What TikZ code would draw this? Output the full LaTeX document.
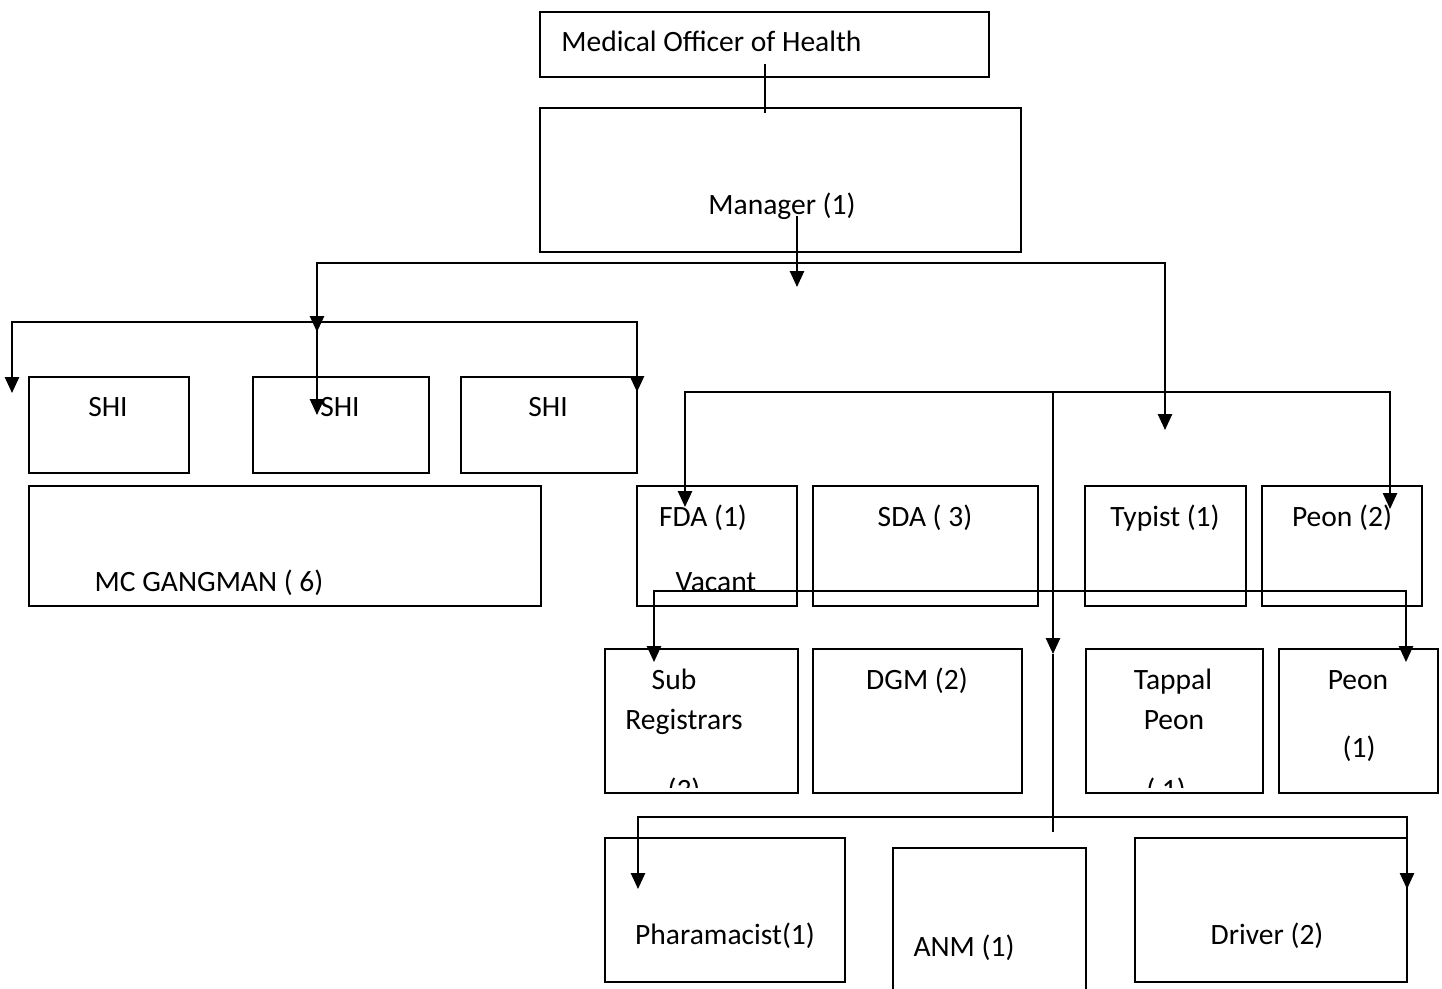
\documentclass[tikz,border=0pt]{standalone}
\usepackage{fontspec}
\setmainfont{Carlito}
\usetikzlibrary{arrows.meta,fit}
\begin{document}
\begin{tikzpicture}
[x=0.02cm,y=-0.02cm,
 boxdecorate/.style={draw,line width=1.1pt,inner sep=0pt},
 textdecorate/.style={inner sep=0pt,anchor=base,font=\fontsize{16.8}{20}\selectfont},
 linedecorate/.style={line width=1.1pt},
 arrowdecorate/.style={line width=1.1pt,-{Triangle[length=9pt,width=8pt]}},
 bothdecorate/.style={line width=1.1pt,{Triangle[length=9pt,width=8pt]}-{Triangle[length=9pt,width=8pt]}}]
\useasboundingbox (0,0) rectangle (1442,988);
%% draw the boxes
\foreach \nm/\xa/\ya/\xb/\yb in {moh/540/12/989/77, mgr/540/108/1021/252,
  shia/29/377/189/473, shib/253/377/429/473, shic/461/377/637/473,
  gang/29/486/541/606, fda/637/486/797/606, sda/813/486/1038/606,
  typist/1085/486/1246/606, peontwo/1262/486/1422/606,
  subreg/605/649/798/793, dgm/813/649/1022/793, tappal/1086/649/1263/793,
  peonone/1279/649/1438/793, pharm/605/838/845/982, anm/893/848/1086/1010,
  driver/1135/838/1407/982}
{
  \node[boxdecorate,fit={(\xa,\ya) (\xb,\yb)}] (\nm) {};
}
%% the texts
\node[textdecorate,anchor=base west] (mohname) at (561,51) {Medical Officer of Health};
\foreach \nm/\xpos/\ypos/\txt in {mgrname/782/214/{Manager (1)},
  shianame/108/416/SHI, shibname/340/416/SHI, shicname/548/416/SHI,
  gangname/209/591/{MC GANGMAN ( 6)}, fdaname/703/526/{FDA (1)},
  fdastate/716/591/Vacant, sdaname/925/526/{SDA ( 3)},
  typistname/1165/526/{Typist (1)}, peontwoname/1342/526/{Peon (2)},
  subname/674/689/Sub, subnametwo/684/729/Registrars,
  dgmname/917/689/{DGM (2)}, tappalname/1173/689/Tappal,
  tappalnametwo/1174/729/Peon, peononename/1358/689/Peon,
  peononecount/1359/757/{(1)}, pharmname/725/944/{Pharamacist(1)},
  anmname/964/956/{ANM (1)}, drivername/1267/944/{Driver (2)}}
{
  \node[textdecorate] (\nm) at (\xpos,\ypos) {\txt};
}
\begin{scope}
  \clip (605,649) rectangle (1263,787);
  \node[textdecorate] (subcount) at (684,799) {(3)};
  \node[textdecorate] (tappalcount) at (1166,799) {( 1)};
\end{scope}
%% the connectors
\coordinate (mohfoot) at (765,64);
\coordinate (mgrhead) at (765,113);
\draw[linedecorate] (mohfoot) -- (mgrhead);
\coordinate (mgrfoot) at (797,216);
\coordinate (mgrtip) at (797,287);
\draw[arrowdecorate] (mgrfoot) -- (mgrtip);
\coordinate (shitop) at (317,332);
\coordinate (mainbus) at (1165,263);
\coordinate (officetop) at (1165,430);
\draw[bothdecorate] (shitop) |- (mainbus) -- (officetop);
\coordinate (shileft) at (12,393);
\coordinate (shibus) at (637,322);
\coordinate (shiright) at (637,392);
\draw[bothdecorate] (shileft) |- (shibus) -- (shiright);
\coordinate (shimid) at (317,322);
\coordinate (shimidtip) at (317,415);
\draw[arrowdecorate] (shimid) -- (shimidtip);
\coordinate (fdatip) at (685,507);
\coordinate (clerkbus) at (1390,392);
\coordinate (peontwotip) at (1390,509);
\draw[bothdecorate] (fdatip) |- (clerkbus) -- (peontwotip);
\coordinate (clerkmid) at (1053,392);
\coordinate (midtip) at (1053,654);
\coordinate (lowmid) at (1053,832);
\draw[arrowdecorate] (clerkmid) -- (midtip);
\draw[linedecorate] (midtip) -- (lowmid);
\coordinate (subtip) at (654,662);
\coordinate (rowbus) at (1406,591);
\coordinate (peononetip) at (1406,662);
\draw[bothdecorate] (subtip) |- (rowbus) -- (peononetip);
\coordinate (pharmtip) at (638,889);
\coordinate (lowbus) at (1407,817);
\coordinate (drivertip) at (1407,889);
\draw[bothdecorate] (pharmtip) |- (lowbus) -- (drivertip);
\end{tikzpicture}
\end{document}
